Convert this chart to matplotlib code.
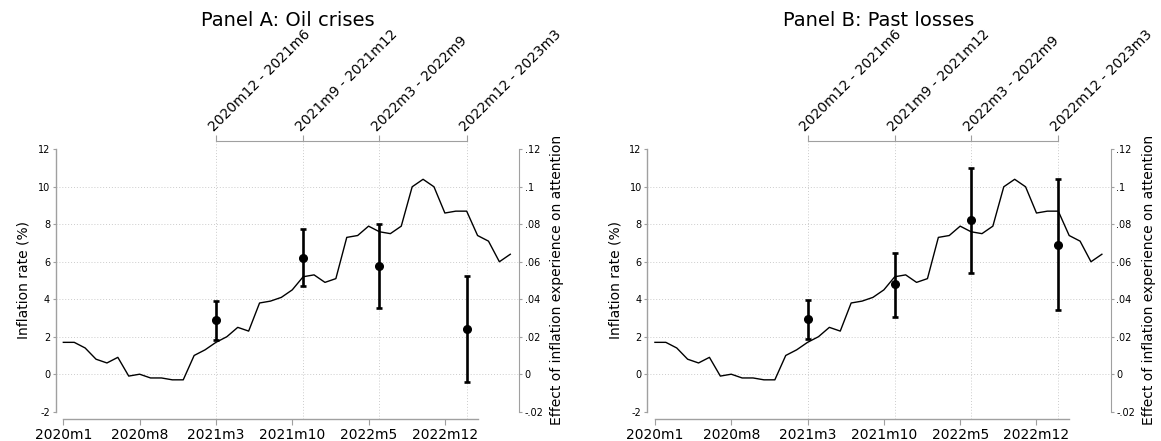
import numpy as np
import matplotlib
matplotlib.use('Agg')
import matplotlib.pyplot as plt

plt.rcParams['axes.unicode_minus'] = False

# Monthly inflation rate (%), month index 0 = 2020m1 ... 41 = 2023m6
inflation = [1.7, 1.7, 1.4, 0.8, 0.6, 0.9, -0.1, 0.0, -0.2, -0.2, -0.3, -0.3,
             1.0, 1.3, 1.7, 2.0, 2.5, 2.3, 3.8, 3.9, 4.1, 4.5, 5.2, 5.3,
             4.9, 5.1, 7.3, 7.4, 7.9, 7.6, 7.5, 7.9, 10.0, 10.4, 10.0, 8.6,
             8.7, 8.7, 7.4, 7.1, 6.0, 6.4]

xtick_months = [0, 7, 14, 21, 28, 35]
xtick_labels = ['2020m1', '2020m8', '2021m3', '2021m10', '2022m5', '2022m12']

# survey windows (plotted at month index) and their labels
event_months = [14, 22, 29, 37]
event_labels = ['2020m12 - 2021m6', '2021m9 - 2021m12', '2022m3 - 2022m9', '2022m12 - 2023m3']

# effect of inflation experience on attention: estimate, lower and upper CI
est_a = [0.0287, 0.0619, 0.0578, 0.0242]
lo_a = [0.0181, 0.0470, 0.0354, -0.0041]
hi_a = [0.0391, 0.0774, 0.0800, 0.0525]

est_b = [0.0292, 0.0479, 0.0822, 0.0692]
lo_b = [0.0190, 0.0306, 0.0541, 0.0343]
hi_b = [0.0395, 0.0646, 0.1099, 0.1044]

W, H = 1161, 441
AXC = '#a0a0a0'
GRID = '#cccccc'

fig = plt.figure(figsize=(W / 100, H / 100), dpi=100)


def draw_panel(left_px, title, est, lo, hi):
    right_px = left_px + 463.3
    top_px, bot_px = 141, 419.3
    ax = fig.add_axes([left_px / W, 1 - bot_px / H, (right_px - left_px) / W, (bot_px - top_px) / H])
    ax.set_xlim(-0.7, 41.8)
    ax.set_ylim(-2.406, 12.443)
    ax.patch.set_alpha(0)

    months = np.arange(len(inflation))
    ax.plot(months, inflation, color='black', lw=1.0, zorder=3)

    for y in range(0, 12, 2):
        ax.axhline(y, color=GRID, lw=0.7, ls=(0, (1, 2)), zorder=0)
    for m in event_months:
        ax.axvline(m, color=GRID, lw=0.7, ls=(0, (1, 2)), zorder=0)

    for s in ['top', 'right']:
        ax.spines[s].set_visible(False)
    ax.spines['left'].set_bounds(-2, 12)
    ax.spines['bottom'].set_bounds(0, 38)
    for s in ['left', 'bottom']:
        ax.spines[s].set_color(AXC)
        ax.spines[s].set_linewidth(1.0)

    ax.set_yticks(range(-2, 13, 2))
    ax.tick_params(axis='y', labelsize=7, length=2.5, pad=1.5, color=AXC)
    ax.set_xticks(xtick_months, xtick_labels)
    ax.tick_params(axis='x', labelsize=10, length=4, pad=2, color=AXC)
    ax.set_ylabel('Inflation rate (%)', fontsize=10, labelpad=5)

    ax2 = ax.twinx()
    ax2.set_ylim(-0.02406, 0.12443)
    for s in ['top', 'left', 'bottom']:
        ax2.spines[s].set_visible(False)
    ax2.spines['right'].set_bounds(-0.02, 0.12)
    ax2.spines['right'].set_color(AXC)
    ax2.set_yticks([-0.02, 0, 0.02, 0.04, 0.06, 0.08, 0.1, 0.12],
                   ['-.02', '0', '.02', '.04', '.06', '.08', '.1', '.12'])
    ax2.tick_params(axis='y', labelsize=7, length=2.5, pad=1.5, color=AXC)
    ax2.set_ylabel('Effect of inflation experience on attention', fontsize=10, labelpad=5)

    est = np.array(est)
    yerr = [est - np.array(lo), np.array(hi) - est]
    ax2.errorbar(event_months, est, yerr=yerr, fmt='o', color='black', ms=5.5,
                 elinewidth=1.9, capsize=2.5, capthick=1.9, zorder=4)

    sec = ax.secondary_xaxis('top')
    sec.set_xticks(event_months, event_labels, rotation=45, ha='left', va='bottom',
                   rotation_mode='anchor', fontsize=10)
    sec.tick_params(axis='x', length=4, pad=1, color=AXC)
    sec.spines['top'].set_bounds(event_months[0], event_months[-1])
    sec.spines['top'].set_color(AXC)

    fig.text((left_px + right_px) / 2 / W, 1 - 26 / H, title, ha='center', va='baseline', fontsize=14)


draw_panel(55.7, 'Panel A: Oil crises', est_a, lo_a, hi_a)
draw_panel(647.3, 'Panel B: Past losses', est_b, lo_b, hi_b)

fig.savefig('out.png', dpi=100)
